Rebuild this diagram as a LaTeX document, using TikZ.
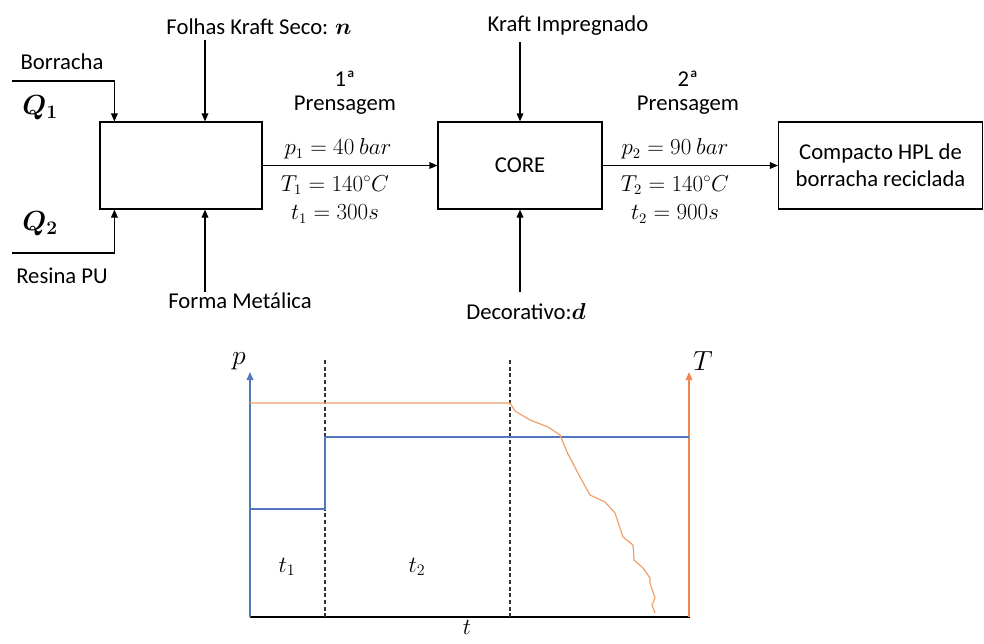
\documentclass[tikz,border=0pt]{standalone}
\usepackage{amsmath}
\usepackage{amssymb}
\usepackage{bm}
\usepackage{fontspec}
\setmainfont{Carlito}
\usetikzlibrary{arrows.meta,calc}

\definecolor{pBlue}{RGB}{80,120,190}
\definecolor{tOrange}{RGB}{240,160,105}
\definecolor{tAxis}{RGB}{238,135,80}

\tikzset{
  bloco/.style={draw, line width=0.9pt, inner sep=0pt, align=center},
  seta/.style={line width=0.9pt, -{Triangle[length=6pt,width=5pt]}},
  rotulo/.style={inner sep=0.75pt, font=\fontsize{17}{21}\selectfont},
  cond/.style={inner sep=0.75pt, font=\fontsize{16}{19}\selectfont},
  grande/.style={inner sep=0.75pt, font=\fontsize{21}{25}\selectfont},
}

\begin{document}
\begin{tikzpicture}[x=0.75pt,y=0.75pt,yscale=-1,xscale=1]
%set diagram left start at 0, and has height of 643
\useasboundingbox (0,0) rectangle (984,643);

%Shape: Rectangle [id:mix]
\node (mix) [bloco, minimum width=121.5pt, minimum height=65.25pt] at (181,165.5) {};
%Shape: Rectangle [id:core]
\node (core) [bloco, minimum width=123pt, minimum height=65.25pt, font=\fontsize{17}{21}\selectfont] at (520,165.5) {CORE};
%Shape: Rectangle [id:hpl]
\node (hpl) [bloco, minimum width=153pt, minimum height=65.25pt, font=\fontsize{17}{21}\selectfont] at (880.5,165.5) {Compacto HPL de\\[-1pt]borracha reciclada};

% Text Node
\node (borracha) [rotulo] at (62,62) {Borracha};
% Text Node
\node (q1) [grande] at (40,108) {$\bm{Q_1}$};
% Text Node
\node (q2) [grande] at (40,224) {$\bm{Q_2}$};
% Text Node
\node (resina) [rotulo] at (62,276) {Resina PU};
% Text Node
\node (folhas) [rotulo] at (259,27) {Folhas Kraft Seco: $\bm{n}$};
% Text Node
\node (forma) [rotulo] at (240,301) {Forma Metálica};
% Text Node
\node (kraft) [rotulo] at (568,26) {Kraft Impregnado};
% Text Node
\node (decor) [rotulo] at (526,312) {Decorativo:$\bm{d}$};

% Text Node
\node (um) [rotulo] at (345,79) {1ª};
% Text Node
\node (prens1) [rotulo] at (345,105) {Prensagem};
% Text Node
\node (p1) [cond] at (338,149) {$p_1 = 40\ bar$};
% Text Node
\node (T1) [cond] at (335,185) {$T_1 = 140^{\circ}C$};
% Text Node
\node (t1) [cond] at (335,214) {$t_1 = 300s$};
% Text Node
\node (dois) [rotulo] at (688,79) {2ª};
% Text Node
\node (prens2) [rotulo] at (688,105) {Prensagem};
% Text Node
\node (p2) [cond] at (675,149) {$p_2 = 90\ bar$};
% Text Node
\node (T2) [cond] at (675,185) {$T_2 = 140^{\circ}C$};
% Text Node
\node (t2) [cond] at (675,214) {$t_2 = 900s$};

%Straight Lines [id:entradas]
\coordinate (borIn) at (12,81);
\coordinate (resIn) at (12,253);
\coordinate (folIn) at (205,40);
\coordinate (forIn) at (205,292);
\coordinate (kraIn) at (520,42);
\coordinate (decIn) at (520,292);
\draw [seta] (borIn) -| ($(mix.north west)+(15,0)$);
\draw [seta] (resIn) -| ($(mix.south west)+(15,0)$);
\draw [seta] (folIn) -- (folIn |- mix.north);
\draw [seta] (forIn) -- (forIn |- mix.south);
\draw [seta] (kraIn) -- (core.north);
\draw [seta] (decIn) -- (core.south);
%Straight Lines [id:prensagens]
\draw [seta] (mix.east) -- (core.west);
\draw [seta] (core.east) -- (hpl.west);

%Graph: eixos
\draw [color=black, line width=1.1pt] (250,617) -- (690,617);
\draw [color=pBlue, line width=0.9pt, -{Triangle[length=6pt,width=5pt]}] (250,617) -- (250,372);
\draw [color=tAxis, line width=0.9pt, -{Triangle[length=6pt,width=5pt]}] (689,617) -- (689,372);
%Straight Lines [id:tracejadas]
\draw [color=black!80, line width=0.8pt, dash pattern=on 3pt off 2pt] (325,360) -- (325,617);
\draw [color=black!80, line width=0.8pt, dash pattern=on 3pt off 2pt] (510,360) -- (510,617);
%Curve: pressao
\draw [color=pBlue, line width=0.9pt] (250,509) -- (325,509) -- (325,437) -- (689,437);
%Curve: temperatura
\draw [color=tOrange, line width=0.9pt] (250,403) -- (510,403) -- (515,411) -- (530,420) -- (548,427) -- (560,435) -- (567,452) -- (580,477) -- (590,495) -- (605,502) -- (615,513) -- (623,537) -- (633,545) -- (634,560) -- (643,568) -- (650,578) -- (650,583) -- (655,598) -- (652,605) -- (655,613);

% Text Node
\node (eixoP) [grande] at (239,361) {$p$};
% Text Node
\node (eixoT) [grande] at (703,361) {$T$};
% Text Node
\node (eixoTempo) [inner sep=0.75pt, font=\fontsize{19}{22}\selectfont, anchor=north] at (467,619) {$t$};
% Text Node
\node (fase1) [inner sep=0.75pt, font=\fontsize{18}{21}\selectfont] at (287,567) {$t_1$};
% Text Node
\node (fase2) [inner sep=0.75pt, font=\fontsize{18}{21}\selectfont] at (417,567) {$t_2$};

\end{tikzpicture}
\end{document}
